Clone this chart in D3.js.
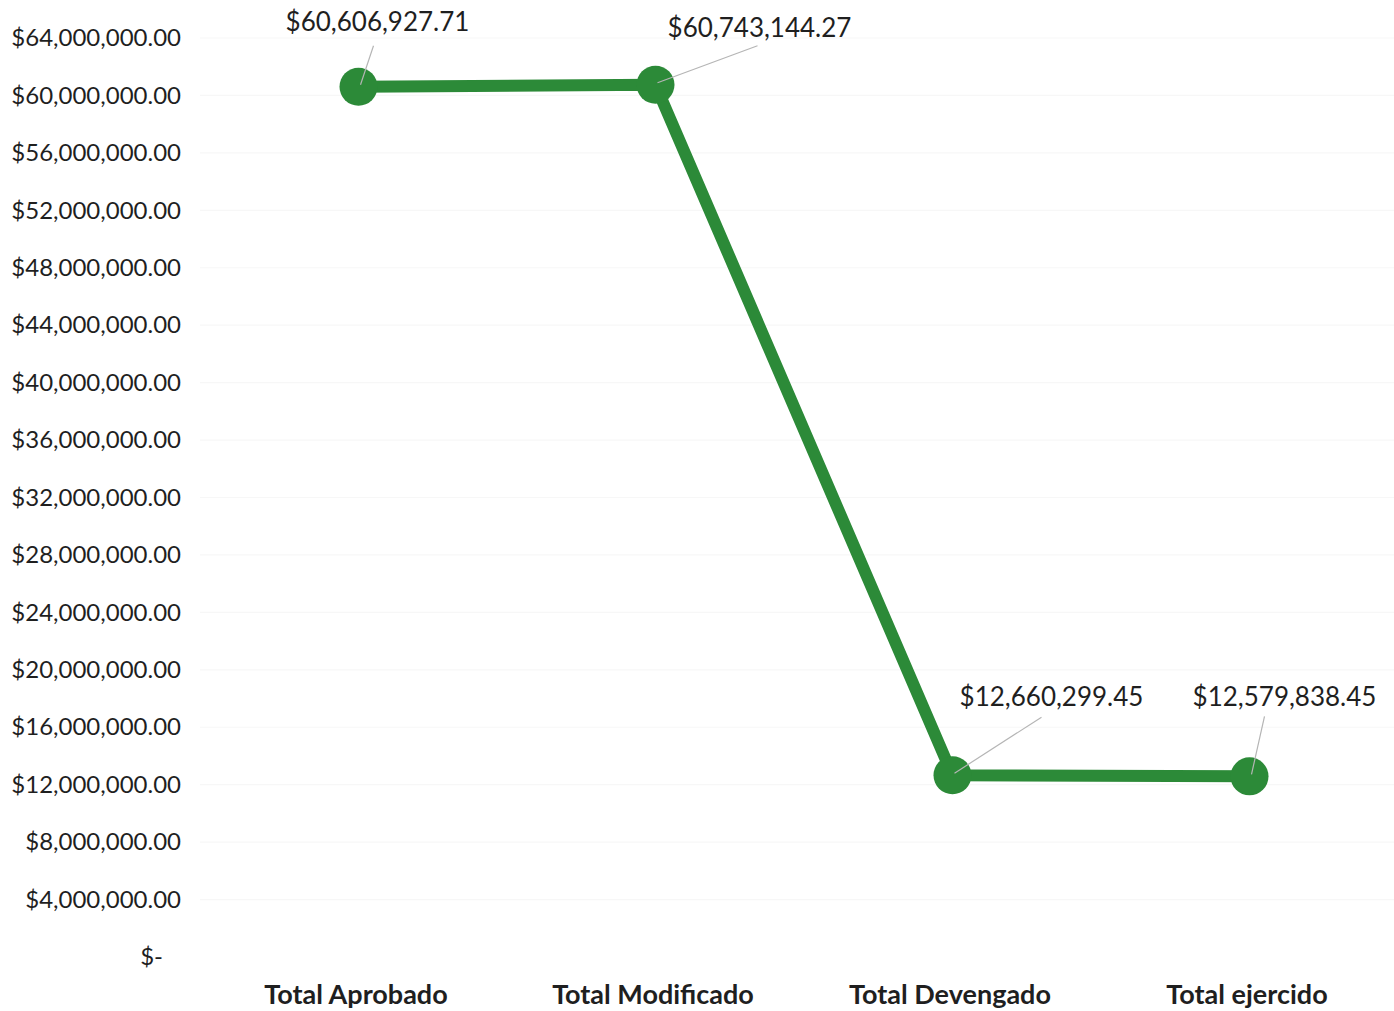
<!DOCTYPE html>
<html>
<head>
<meta charset="utf-8">
<script src="https://cdn.jsdelivr.net/npm/d3@7/dist/d3.min.js"></script>
<style>
  html, body { margin: 0; padding: 0; background: #ffffff; }
  svg { display: block; }
  text { font-family: Lato, "Open Sans", sans-serif; fill: #1f1f1f; }
</style>
</head>
<body>
<svg id="chart" width="1394" height="1011"></svg>
<script>
// Budget stages and their totals
const categories = ["Total Aprobado", "Total Modificado", "Total Devengado", "Total ejercido"];
const values = [60606927.71, 60743144.27, 12660299.45, 12579838.45];
const valueLabels = ["$60,606,927.71", "$60,743,144.27", "$12,660,299.45", "$12,579,838.45"];
const yTicks = [0, 4e6, 8e6, 12e6, 16e6, 20e6, 24e6, 28e6, 32e6, 36e6, 40e6, 44e6, 48e6, 52e6, 56e6, 60e6, 64e6];

const svg = d3.select("#chart");
const W = 1394, H = 1011;

const x = d3.scalePoint().domain(categories).range([210, 1398]).padding(0.5);
const y = d3.scaleLinear().domain([0, 64e6]).range([957, 38]);

const fmt = d3.format(",.2f");
const tickText = v => v === 0 ? "$-" : "$" + fmt(v);

// very faint horizontal gridlines
svg.append("g")
  .selectAll("line")
  .data(yTicks.filter(v => v > 0))
  .join("line")
  .attr("x1", 200).attr("x2", W)
  .attr("y1", d => y(d)).attr("y2", d => y(d))
  .attr("stroke", "#f7f7f7").attr("stroke-width", 1.2);

// y axis labels
const yAxis = d3.axisLeft(y).tickValues(yTicks).tickFormat(tickText).tickSize(0).tickPadding(0);
const gy = svg.append("g").attr("transform", "translate(181,0)").call(yAxis);
gy.select(".domain").remove();
gy.selectAll("text")
  .style("font-family", "Lato, 'Open Sans', sans-serif")
  .style("font-size", "24px")
  .attr("fill", "#1f1f1f")
  .attr("dx", d => d === 0 ? -18 : 0);

// category labels
const xAxis = d3.axisBottom(x).tickSize(0).tickPadding(0);
const gx = svg.append("g").attr("transform", "translate(0,985)").call(xAxis);
gx.select(".domain").remove();
gx.selectAll("text")
  .style("font-family", "Lato, 'Open Sans', sans-serif")
  .style("font-size", "27px")
  .style("font-weight", "bold")
  .attr("fill", "#1f1f1f")
  .attr("dx", -3);

const pts = categories.map((c, i) => ({ c, v: values[i], label: valueLabels[i] }));

// series line
svg.append("path")
  .datum(pts)
  .attr("d", d3.line().x(d => x(d.c)).y(d => y(d.v)))
  .attr("fill", "none")
  .attr("stroke", "#2c8a38")
  .attr("stroke-width", 12)
  .attr("stroke-linejoin", "round");

// markers
svg.append("g")
  .selectAll("circle")
  .data(pts)
  .join("circle")
  .attr("cx", d => x(d.c))
  .attr("cy", d => y(d.v))
  .attr("r", 19)
  .attr("fill", "#2c8a38");

// data labels with leader lines (offsets relative to the marker)
const labelOffset = [
  { dx: 19, dy: -66, lx: 15, ly: -41 },
  { dx: 104, dy: -58, lx: 102, ly: -39 },
  { dx: 99, dy: -79, lx: 89, ly: -58 },
  { dx: 35, dy: -80, lx: 15, ly: -60 }
];

const lbl = svg.append("g");
pts.forEach((d, i) => {
  const px = x(d.c), py = y(d.v), o = labelOffset[i];
  lbl.append("line")
    .attr("x1", px + 2).attr("y1", py - 2)
    .attr("x2", px + o.lx).attr("y2", py + o.ly)
    .attr("stroke", "#b5b5b5").attr("stroke-width", 1.2);
  lbl.append("text")
    .attr("x", px + o.dx).attr("y", py + o.dy)
    .attr("text-anchor", "middle")
    .attr("dominant-baseline", "central")
    .style("font-size", "26px")
    .text(d.label);
});
</script>
</body>
</html>
